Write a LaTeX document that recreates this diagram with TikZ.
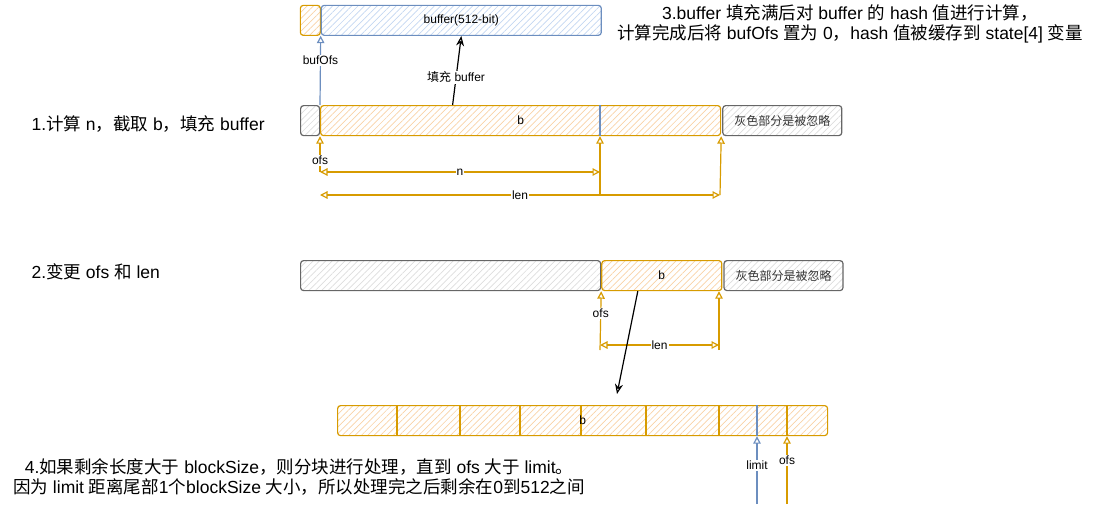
\documentclass[tikz,border=0pt]{standalone}
\usepackage{fontspec}
\setmainfont{Liberation Sans}
\newfontfamily\cjk{Noto Sans CJK SC}
\newcommand{\zh}[1]{{\cjk #1}}
\usetikzlibrary{arrows.meta, positioning, patterns.meta}
\definecolor{ostroke}{HTML}{D79B00}
\definecolor{ohatch}{HTML}{F8D2A6}
\definecolor{bstroke}{HTML}{6C8EBF}
\definecolor{bhatch}{HTML}{C3D6F1}
\definecolor{gstroke}{HTML}{666666}
\definecolor{ghatch}{HTML}{DDDDDD}
\definecolor{gtext}{HTML}{333333}

\begin{document}
\begin{tikzpicture}[x=1pt, y=-1pt, font=\fontsize{12}{14}\selectfont]
\useasboundingbox (0,0) rectangle (1097,504);
% Define styles
\tikzstyle{cell} = [rectangle, draw, rounded corners=3pt, inner sep=0pt, line width=1.2pt, minimum height=30pt]
\tikzstyle{obox} = [cell, draw=ostroke, pattern={Lines[angle=45,distance=4.5pt,line width=0.7pt]}, pattern color=ohatch]
\tikzstyle{bbox} = [cell, draw=bstroke, pattern={Lines[angle=45,distance=4.5pt,line width=0.7pt]}, pattern color=bhatch]
\tikzstyle{gbox} = [cell, draw=gstroke, pattern={Lines[angle=45,distance=4.5pt,line width=0.7pt]}, pattern color=ghatch]
\tikzstyle{ibox} = [gbox, text=gtext]
\tikzstyle{lbl} = [fill=white, inner sep=1pt]
\tikzstyle{oarrow} = [draw=ostroke, line width=1.2pt, -{Triangle[open, length=7.5pt, width=7.5pt]}]
\tikzstyle{odarrow} = [draw=ostroke, line width=1.2pt, {Triangle[open, length=7.5pt, width=7.5pt]}-{Triangle[open, length=7.5pt, width=7.5pt]}]
\tikzstyle{barrow} = [draw=bstroke, line width=1.2pt, -{Triangle[open, length=7.5pt, width=7.5pt]}]
\tikzstyle{karrow} = [draw=black, line width=1.2pt, -{Stealth[open, length=10pt, width=8pt]}]
\tikzstyle{txt} = [font=\fontsize{17.5}{20}\selectfont, align=center]

% Buffer
\node (bufofs) [obox, anchor=north west, minimum width=20pt] at (300,5) {};
\node (buffer) [bbox, right=0pt of bufofs, minimum width=280pt] {buffer(512-bit)};

% Step 1
\node (g1) [gbox, anchor=north west, minimum width=19pt] at (300,105) {};
\node (b1) [obox, anchor=north west, minimum width=400pt] at (320,105) {b};
\node (ig1) [ibox, right=1pt of b1, minimum width=119pt] {\zh{灰色部分是被忽略}};
\coordinate (cut1) at (600,195);
\draw [bstroke, line width=1.2pt] (cut1 |- b1.north) -- (cut1 |- b1.south);
\coordinate (ofs1) at (320,172);
\coordinate (n1) at (600,172);
\coordinate (lena1) at (320,195);
\coordinate (lenb1) at (720,195);
\draw [barrow] (b1.north west) -- (bufofs.south east) node[pos=0.64, lbl] {bufOfs};
\draw [karrow] ([xshift=-68pt]b1.north) -- (buffer.south) node[pos=0.4, lbl] {\zh{填充} buffer};
\draw [oarrow] (ofs1) -- (b1.south west) node[pos=0.33, lbl] {ofs};
\draw [oarrow] (cut1) -- (cut1 |- b1.south);
\draw [oarrow] (lenb1) -- (b1.south east);
\draw [odarrow] (ofs1) -- (n1) node[midway, lbl] {n};
\draw [odarrow] (lena1) -- (lenb1) node[midway, lbl] {len};

% Step 2
\node (g2) [gbox, anchor=north west, minimum width=300pt] at (300,260) {};
\node (b2) [obox, right=0pt of g2, minimum width=120pt] {b};
\node (ig2) [ibox, right=1pt of b2, minimum width=119pt] {\zh{灰色部分是被忽略}};
\coordinate (ofs2) at (600,350);
\coordinate (end2) at (719,350);
\coordinate (lena2) at (600,345);
\coordinate (lenb2) at (719,345);
\draw [oarrow] (ofs2) -- (b2.south west) node[pos=0.62, lbl] {ofs};
\draw [oarrow] (end2) -- (end2 |- b2.south);
\draw [odarrow] (lena2) -- (lenb2) node[midway, lbl] {len};

% Step 4
\node (blk) [obox, anchor=north west, minimum width=490pt] at (337,405) {};
\foreach \x in {397,460,520,581,646,719,787}
  \draw [ostroke, line width=1.2pt] (\x,405) -- (\x,435);
\node (blkb) at (blk.center) {b};
\coordinate (lim) at (757,504);
\coordinate (ofs4) at (787,504);
\draw [bstroke, line width=1.2pt] (lim |- blk.north) -- (lim |- blk.south);
\coordinate (tip4) at (617,394);
\draw [karrow] ([xshift=-24pt]b2.south) -- (tip4);
\draw [barrow] (lim) -- (lim |- blk.south) node[pos=0.57, lbl] {limit};
\draw [oarrow] (ofs4) -- (ofs4 |- blk.south) node[pos=0.64, lbl] {ofs};

% Notes
\node (step1) [txt, anchor=west] at (28,124) {1.\zh{计算} n\zh{，截取} b\zh{，填充} buffer};
\node (step2) [txt, anchor=west] at (28,272) {2.\zh{变更} ofs \zh{和} len};
\node (step3) [txt] at (850,24) {3.buffer \zh{填充满后对} buffer \zh{的} hash \zh{值进行计算，}\\
  \zh{计算完成后将} bufOfs \zh{置为} 0\zh{，}hash \zh{值被缓存到} state[4] \zh{变量}};
\node (step4) [txt] at (299,477) {4.\zh{如果剩余长度大于} blockSize\zh{，则分块进行处理，直到} ofs \zh{大于} limit\zh{。}\\
  \zh{因为} limit \zh{距离尾部}1\zh{个}blockSize \zh{大小，所以处理完之后剩余在}0\zh{到}512\zh{之间}};
\end{tikzpicture}
\end{document}
